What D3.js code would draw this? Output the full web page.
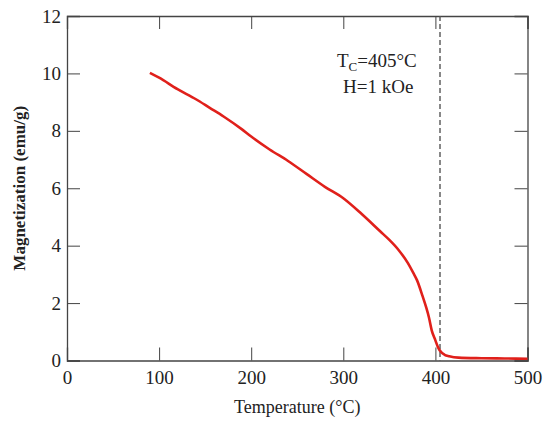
<!DOCTYPE html>
<html>
<head>
<meta charset="utf-8">
<script src="https://cdn.jsdelivr.net/npm/d3@7"></script>
<style>
  body { margin: 0; background: #fff; }
  .axis path, .axis line { stroke: #444; }
</style>
</head>
<body>
<svg width="546" height="424"></svg>
<script>
// temperature (°C) and magnetization (emu/g)
var temps = [90, 100, 120, 140, 155, 170, 190, 200, 220, 240, 260, 280, 300, 320, 340, 350, 360, 370, 376, 380, 386, 390, 393, 396, 400, 403, 406, 410, 415, 425, 450, 475, 500];
var magn  = [10.02, 9.85, 9.45, 9.1, 8.8, 8.5, 8.05, 7.8, 7.35, 6.95, 6.5, 6.05, 5.65, 5.1, 4.5, 4.2, 3.85, 3.4, 3.05, 2.8, 2.25, 1.85, 1.5, 1.05, 0.7, 0.45, 0.3, 0.2, 0.15, 0.1, 0.08, 0.07, 0.06];
var xTicks = [0, 100, 200, 300, 400, 500];
var yTicks = [0, 2, 4, 6, 8, 10, 12];
var curieT = 405;

var serif = "'Liberation Serif', 'Times New Roman', serif";

var svg = d3.select("svg"),
    margin = {top: 16, right: 18.5, bottom: 63.5, left: 67},
    width = +svg.attr("width") - margin.left - margin.right,
    height = +svg.attr("height") - margin.top - margin.bottom,
    x = d3.scaleLinear().domain([0, 500]).range([0, width]),
    y = d3.scaleLinear().domain([0, 12]).range([height, 0]),
    g = svg.append("g").attr("transform", "translate(" + margin.left + "," + margin.top + ")");

var data = temps.map(function(t, i) { return {t: t, m: magn[i]}; });

// ticks point inward on all four sides
g.append("g").attr("class", "axis")
    .attr("transform", "translate(0," + height + ")")
    .call(d3.axisBottom(x).tickValues(xTicks).tickSize(-13).tickPadding(10))
    .selectAll("text").style("font-family", serif).style("font-size", "19px").attr("fill", "#222");
g.append("g").attr("class", "axis")
    .call(d3.axisTop(x).tickValues(xTicks).tickSize(-13).tickFormat(""));
g.append("g").attr("class", "axis")
    .call(d3.axisLeft(y).tickValues(yTicks).tickSize(-13).tickPadding(6))
    .selectAll("text").style("font-family", serif).style("font-size", "19px").attr("fill", "#222");
g.append("g").attr("class", "axis")
    .attr("transform", "translate(" + width + ",0)")
    .call(d3.axisRight(y).tickValues(yTicks).tickSize(-13).tickFormat(""));
g.selectAll(".axis .domain").attr("stroke-width", 1.3);

// Curie temperature marker
g.append("line")
    .attr("x1", x(curieT)).attr("x2", x(curieT))
    .attr("y1", 0).attr("y2", height)
    .attr("stroke", "#555").attr("stroke-width", 1.4)
    .attr("stroke-dasharray", "5,3");

g.append("path")
    .datum(data)
    .attr("fill", "none")
    .attr("stroke", "#e0201b")
    .attr("stroke-width", 2.6)
    .attr("stroke-linejoin", "round")
    .attr("d", d3.line().curve(d3.curveMonotoneX).x(function(d) { return x(d.t); }).y(function(d) { return y(d.m); }));

var tc = svg.append("text").attr("x", 337).attr("y", 67)
    .style("font-family", serif).style("font-size", "19px").attr("fill", "#222");
tc.append("tspan").text("T");
tc.append("tspan").attr("dy", 4).style("font-size", "13px").text("C");
tc.append("tspan").attr("dy", -4).text("=405°C");
svg.append("text").attr("x", 343).attr("y", 93)
    .style("font-family", serif).style("font-size", "19px").attr("fill", "#222")
    .text("H=1 kOe");

svg.append("text")
    .attr("x", margin.left + width / 2).attr("y", 413)
    .attr("text-anchor", "middle")
    .style("font-family", serif).style("font-size", "18px").attr("fill", "#222")
    .text("Temperature (°C)");
svg.append("text")
    .attr("transform", "translate(25," + (margin.top + height / 2) + ") rotate(-90)")
    .attr("text-anchor", "middle")
    .style("font-family", serif).style("font-size", "17px").style("font-weight", "bold").attr("fill", "#222")
    .text("Magnetization (emu/g)");
</script>
</body>
</html>
